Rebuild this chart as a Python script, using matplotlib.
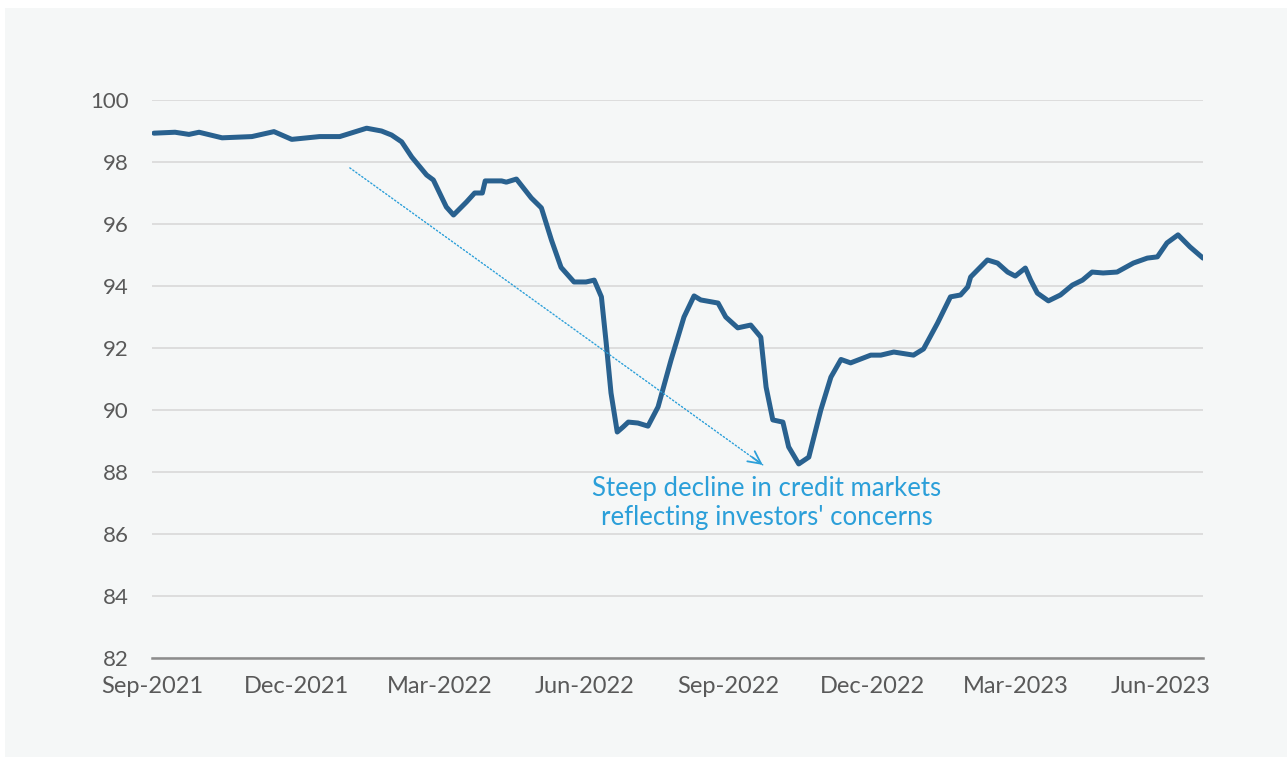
import matplotlib.pyplot as plt
from matplotlib.patches import Rectangle

# months since 1 Sep 2021, and index level
months = [0.04, 0.48, 0.77, 0.98, 1.46, 2.08, 2.54, 2.91, 3.49, 3.91,
          4.47, 4.78, 4.99, 5.20, 5.41, 5.72, 5.86, 6.13, 6.28, 6.55,
          6.72, 6.88, 6.94, 7.28, 7.38, 7.59, 7.90, 8.11, 8.32, 8.52,
          8.79, 9.04, 9.21, 9.36, 9.46, 9.56, 9.69, 9.81, 9.92, 10.12,
          10.33, 10.54, 10.81, 11.08, 11.29, 11.43, 11.79, 11.95, 12.20, 12.47,
          12.68, 12.79, 12.93, 13.14, 13.26, 13.47, 13.68, 13.93, 14.14, 14.35,
          14.55, 14.97, 15.18, 15.45, 15.86, 16.07, 16.36, 16.63, 16.84, 16.99,
          17.05, 17.40, 17.61, 17.82, 17.98, 18.19, 18.30, 18.44, 18.67, 18.92,
          19.17, 19.38, 19.58, 19.81, 20.10, 20.44, 20.73, 20.94, 21.14, 21.37,
          21.62, 21.89]
index = [98.93, 98.96, 98.89, 98.96, 98.78, 98.82, 98.98, 98.73, 98.82, 98.82,
         99.09, 99.00, 98.87, 98.65, 98.16, 97.58, 97.42, 96.55, 96.29, 96.71,
         97.00, 97.00, 97.39, 97.39, 97.35, 97.45, 96.84, 96.52, 95.48, 94.60,
         94.13, 94.13, 94.19, 93.65, 92.16, 90.55, 89.29, 89.45, 89.61, 89.58,
         89.48, 90.10, 91.61, 93.00, 93.68, 93.55, 93.45, 93.00, 92.65, 92.74,
         92.35, 90.74, 89.68, 89.61, 88.81, 88.26, 88.48, 90.00, 91.06, 91.63,
         91.52, 91.77, 91.77, 91.87, 91.77, 91.97, 92.80, 93.65, 93.71, 93.97,
         94.29, 94.84, 94.74, 94.45, 94.32, 94.58, 94.19, 93.77, 93.52, 93.71,
         94.03, 94.19, 94.45, 94.42, 94.45, 94.74, 94.90, 94.94, 95.39, 95.65,
         95.26, 94.90]

tick_months = [0, 3, 6, 9, 12, 15, 18, 21]
tick_labels = ['Sep-2021', 'Dec-2021', 'Mar-2022', 'Jun-2022',
               'Sep-2022', 'Dec-2022', 'Mar-2023', 'Jun-2023']
y_ticks = list(range(82, 101, 2))

note = "Steep decline in credit markets\nreflecting investors' concerns"

bg = '#f5f7f7'
line_col = '#29618f'
note_col = '#2b9fd9'
text_col = '#595959'

plt.rcParams['font.family'] = ['Lato', 'DejaVu Sans']

fig = plt.figure(figsize=(12.87, 7.57), dpi=100, facecolor='white')
fig.patches.append(Rectangle((5 / 1287, 0), 1, 1 - 8 / 757,
                             transform=fig.transFigure, facecolor=bg,
                             edgecolor='none', zorder=-10))

ax = fig.add_axes([152 / 1287, 1 - 658 / 757, 1051 / 1287, 558 / 757])
ax.set_facecolor(bg)

ax.plot(months, index, color=line_col, lw=3.6, solid_joinstyle='round',
        solid_capstyle='round', zorder=3)

ax.set_xlim(0, 21.89)
ax.set_ylim(82, 100)
ax.set_yticks(y_ticks)
ax.set_xticks(tick_months)
ax.set_xticklabels(tick_labels)
ax.tick_params(axis='y', length=0, pad=17, labelsize=16, labelcolor=text_col)
ax.tick_params(axis='x', length=0, pad=13, labelsize=17, labelcolor=text_col)
ax.yaxis.grid(True, color='#d6d6d6', lw=1.1)
ax.set_axisbelow(True)
for s in ['top', 'right', 'left']:
    ax.spines[s].set_visible(False)
ax.spines['bottom'].set_color('#8c8c8c')
ax.spines['bottom'].set_linewidth(1.8)

# dotted shaft plus a solid open head
ax.annotate('', xy=(12.72, 88.23), xytext=(4.12, 97.81),
            arrowprops=dict(arrowstyle='-', color=note_col, lw=1.0,
                            linestyle=':', shrinkA=0, shrinkB=0))
ax.annotate('', xy=(12.72, 88.23), xytext=(12.5, 88.48),
            arrowprops=dict(arrowstyle='->,head_length=0.9,head_width=0.45',
                            color=note_col, lw=1.3, shrinkA=0, shrinkB=0))
ax.text(12.81, 87.0, note, color=note_col, fontsize=18.5, ha='center',
        va='center', linespacing=1.2)

fig.savefig('out.png', dpi=100, facecolor='white')
